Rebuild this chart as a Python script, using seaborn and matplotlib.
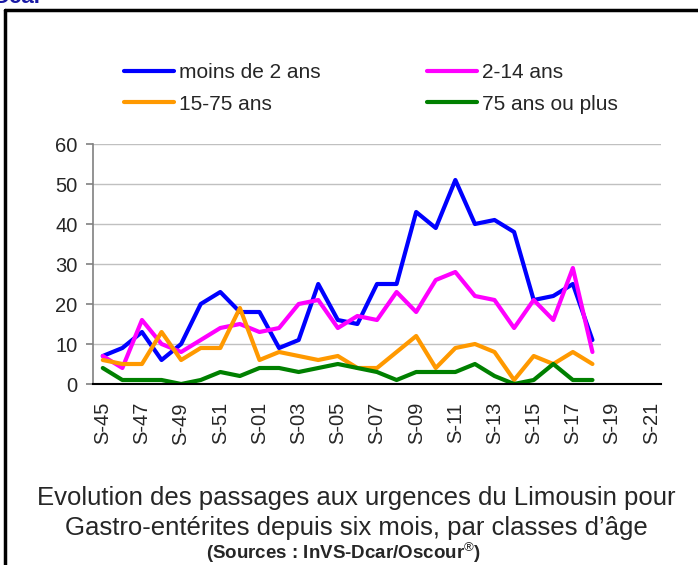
import numpy as np
import pandas as pd
import matplotlib
matplotlib.use("Agg")
import matplotlib.pyplot as plt
import seaborn as sns
from matplotlib.lines import Line2D

# weeks S-45 .. S-52 then S-01 .. S-21
weeks = ["S-%02d" % w for w in list(range(45, 53)) + list(range(1, 22))]

moins_2 = [7, 9, 13, 6, 10, 20, 23, 18, 18, 9, 11, 25, 16, 15, 25, 25,
           43, 39, 51, 40, 41, 38, 21, 22, 25, 11]
ans_2_14 = [7, 4, 16, 10, 8, 11, 14, 15, 13, 14, 20, 21, 14, 17, 16, 23,
            18, 26, 28, 22, 21, 14, 21, 16, 29, 8]
ans_15_75 = [6, 5, 5, 13, 6, 9, 9, 19, 6, 8, 7, 6, 7, 4, 4, 8,
             12, 4, 9, 10, 8, 1, 7, 5, 8, 5]
ans_75_plus = [4, 1, 1, 1, 0, 1, 3, 2, 4, 4, 3, 4, 5, 4, 3, 1,
               3, 3, 3, 5, 2, 0, 1, 5, 1, 1]

series = {
    "moins de 2 ans": moins_2,
    "2-14 ans": ans_2_14,
    "15-75 ans": ans_15_75,
    "75 ans ou plus": ans_75_plus,
}
colors = {
    "moins de 2 ans": "#0000FF",
    "2-14 ans": "#FF00FF",
    "15-75 ans": "#FF9900",
    "75 ans ou plus": "#008000",
}

rows = []
for name, vals in series.items():
    for i, v in enumerate(vals):
        rows.append({"pos": i, "semaine": weeks[i], "classe": name, "n": v})
df = pd.DataFrame(rows)

sns.set_style("white")
plt.rcParams["font.family"] = ["Liberation Sans", "DejaVu Sans"]
plt.rcParams["mathtext.fontset"] = "custom"
plt.rcParams["mathtext.rm"] = "Liberation Sans"
plt.rcParams["mathtext.it"] = "Liberation Sans"
plt.rcParams["mathtext.bf"] = "Liberation Sans:bold"

W, H = 698, 565
fig = plt.figure(figsize=(W / 100, H / 100), dpi=100)
ax = fig.add_axes([93 / W, 1 - 384 / H, (661 - 93) / W, (384 - 144) / H])

sns.lineplot(data=df, x="pos", y="n", hue="classe", palette=colors,
             hue_order=list(series.keys()), linewidth=3, ax=ax, legend=True)

ax.set_xlim(-0.5, len(weeks) - 0.5)
ax.set_ylim(0, 60)
ax.set_yticks(range(0, 61, 10))
ax.yaxis.grid(True, color="#c0c0c0", linewidth=1)
ax.set_axisbelow(True)
ax.set_xlabel("")
ax.set_ylabel("")

# labels every two weeks, tick marks between categories
ax.set_xticks(np.arange(0, len(weeks), 2))
ax.set_xticklabels(weeks[::2], rotation=90)
ax.set_xticks(np.arange(-0.5, len(weeks), 1), minor=True)
ax.tick_params(axis="x", which="major", length=0, pad=13, labelsize=14.5)
ax.tick_params(axis="x", which="minor", length=5, width=1.2, color="#808080")
ax.tick_params(axis="y", length=5, width=1.2, color="#808080", pad=6,
               labelsize=14.5, left=True)

for s in ["top", "right"]:
    ax.spines[s].set_visible(False)
ax.spines["left"].set_color("#808080")
ax.spines["left"].set_linewidth(1.2)
ax.spines["bottom"].set_color("black")
ax.spines["bottom"].set_linewidth(1.5)

# legend: two rows, filled column by column
handles, labels = ax.get_legend_handles_labels()
order = ["moins de 2 ans", "15-75 ans", "2-14 ans", "75 ans ou plus"]
hmap = dict(zip(labels, handles))
ax.legend([hmap[k] for k in order], order, ncol=2, frameon=False,
          loc="upper left", bbox_to_anchor=(124 / W, 1 - 63 / H),
          bbox_transform=fig.transFigure, fontsize=15, handlelength=2.4,
          handletextpad=0.25, columnspacing=5.1, labelspacing=0.6,
          borderpad=0, borderaxespad=0)

# frame around the panel (left and top edges visible)
fig.add_artist(Line2D([5 / W, 5 / W], [0, 1 - 10 / H], color="black", lw=2.5,
                      transform=fig.transFigure))
fig.add_artist(Line2D([5 / W, 1], [1 - 10 / H, 1 - 10 / H], color="black", lw=2.5,
                      transform=fig.transFigure))
# bottom of a heading that is cut off by the top edge
fig.text(-0.01, 1 - 3 / H, "Dcar", color="#1a1aa6", fontsize=16,
         fontweight="bold", va="baseline", ha="left")

fig.text(356 / W, 1 - 498 / H,
         "Evolution des passages aux urgences du Limousin pour",
         ha="center", va="center", fontsize=18.5)
fig.text(356 / W, 1 - 528 / H,
         "Gastro-entérites depuis six mois, par classes d\u2019âge",
         ha="center", va="center", fontsize=18.5)
fig.text(343 / W, 1 - 553 / H, "(Sources : InVS-Dcar/Oscour$^{®}$)",
         ha="center", va="center", fontsize=13.5, fontweight="bold")

fig.savefig("out.png", dpi=100)
